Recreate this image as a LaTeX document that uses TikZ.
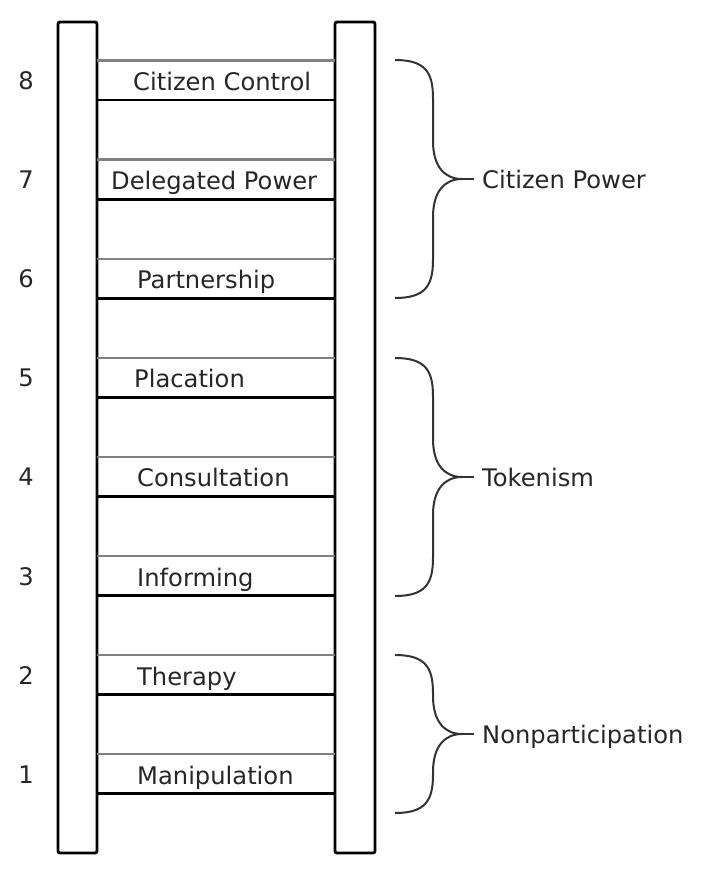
\documentclass[tikz,border=0pt]{standalone}
\usepackage{fontspec}
\setmainfont{DejaVu Sans}
\begin{document}
\begin{tikzpicture}[x=1pt,y=-1pt,
  rail/.style={draw=black,line width=2.8pt,rounded corners=2pt},
  rungtop/.style={draw=black!50,line width=2.4pt},
  rungbot/.style={draw=black,line width=2.9pt},
  lbl/.style={font=\fontsize{24.2}{28}\selectfont,text=black!85,inner sep=0pt,anchor=base west},
  num/.style={font=\fontsize{24.2}{28}\selectfont,text=black!85,inner sep=0pt,anchor=base},
  brace/.style={draw=black!80,line width=2pt}]
\useasboundingbox (0,0) rectangle (709,876);
\draw[rail] (58,22) rectangle (97,853);
\draw[rail] (335,22) rectangle (375,853);
\foreach \k/\t/\x in {8/Citizen Control/133,7/Delegated Power/111,6/Partnership/137,5/Placation/134,4/Consultation/137,3/Informing/137,2/Therapy/137,1/Manipulation/137}
 {\pgfmathsetmacro\yb{100+(8-\k)*99.1}
  \pgfmathsetmacro\yt{\yb-39.5}
  \coordinate (tl\k) at (97,\yt);
  \coordinate (tr\k) at (335,\yt);
  \coordinate (bl\k) at (97,\yb);
  \coordinate (br\k) at (335,\yb);
  \draw[rungtop] (tl\k) -- (tr\k);
  \draw[rungbot] (bl\k) -- (br\k);
  \node[lbl] (r\k) at (\x,\yb-9.5) {\t};
  \node[num] (n\k) at (26,\yb-20+9.5) {\k};}
\foreach \tp/\bt/\t/\n in {60/298/Citizen Power/cp,358/596/Tokenism/tk,655/813/Nonparticipation/np}
 {\pgfmathsetmacro\md{(\tp+\bt)/2}
  \coordinate (tip\n) at (462,\md);
  \coordinate (end\n) at (474,\md);
  \draw[brace] (395,\tp) .. controls (425,\tp) and (433,\tp+12) .. (433,\tp+38) -- (433,\md-38)
     .. controls (433,\md-12) and (445,\md) .. (tip\n)
     .. controls (445,\md) and (433,\md+12) .. (433,\md+38) -- (433,\bt-38)
     .. controls (433,\bt-12) and (425,\bt) .. (395,\bt);
  \draw[brace] (tip\n) -- (end\n);
  \node[lbl] (g\n) at (482,\md+9.5) {\t};}
\end{tikzpicture}
\end{document}
